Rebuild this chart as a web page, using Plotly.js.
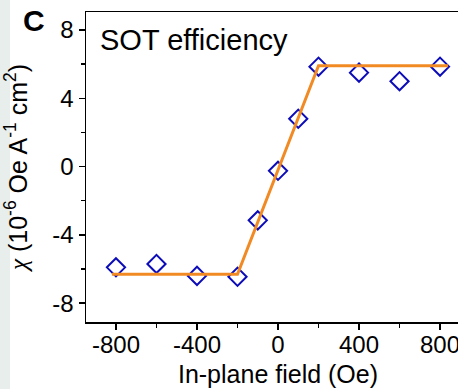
<!DOCTYPE html>
<html>
<head>
<meta charset="utf-8">
<script src="https://cdn.plot.ly/plotly-3.0.1.min.js"></script>
<style>
html,body{margin:0;padding:0;overflow:hidden;width:458px;height:389px;
background:linear-gradient(to right,#e8eeec 0px,#e8eeec 10px,#ffffff 10px);}
#chart{width:480px;height:389px;}
</style>
</head>
<body>
<div id="chart"></div>
<script>
// measured data points
var fieldOe = [-800, -600, -400, -200, -100, 0, 100, 200, 400, 600, 800];
var chi = [-5.9, -5.7, -6.4, -6.45, -3.15, -0.25, 2.8, 5.85, 5.5, 5.0, 5.85];
// fitted piecewise-linear curve
var fitX = [-820, -200, 200, 840];
var fitY = [-6.3, -6.3, 5.9, 5.9];
var xTicks = [-800, -400, 0, 400, 800];
var yTicks = [-8, -4, 0, 4, 8];

var font = 'Liberation Sans, Arial, sans-serif';
var traces = [
  {x: fieldOe, y: chi, type: 'scatter', mode: 'markers',
   marker: {symbol: 'diamond-open', size: 14, color: 'rgb(12,12,185)', line: {width: 2, color: 'rgb(12,12,185)'}}},
  {x: fitX, y: fitY, type: 'scatter', mode: 'lines',
   line: {color: 'rgb(242,138,36)', width: 3}}
];
var axisCommon = {showline: true, linecolor: '#000', linewidth: 1.5, mirror: true,
  ticks: 'outside', ticklen: 6, tickwidth: 1.5, tickcolor: '#000',
  showgrid: false, zeroline: false, tickfont: {family: font, size: 24, color: '#000'}};
var layout = {
  width: 480, height: 389,
  margin: {l: 86, r: 10, t: 12, b: 67},
  paper_bgcolor: 'rgba(0,0,0,0)', plot_bgcolor: '#fff',
  showlegend: false,
  xaxis: Object.assign({}, axisCommon, {
    range: [-948, 948], tickmode: 'array', tickvals: xTicks, ticktext: xTicks.map(String),
    ticklabelstandoff: -5,
    minor: {dtick: 200, tick0: 0, ticks: 'outside', ticklen: 4, tickwidth: 1.5, tickcolor: '#000'},
    title: {text: 'In-plane field (Oe)', font: {family: font, size: 25, color: '#000'}, standoff: 8}
  }),
  yaxis: Object.assign({}, axisCommon, {
    range: [-9.1, 9.05], tickmode: 'array', tickvals: yTicks, ticktext: yTicks.map(String),
    minor: {dtick: 2, tick0: 0, ticks: 'outside', ticklen: 4, tickwidth: 1.5, tickcolor: '#000'},
    title: {text: '<i style="font-family:Liberation Serif">χ</i> (10<sup>-6</sup> Oe A<sup>-1</sup> cm<sup>2</sup>)',
            font: {family: font, size: 25, color: '#000'}, standoff: 20}
  }),
  annotations: [
    {text: 'SOT efficiency', xref: 'paper', yref: 'paper', x: 0.032, y: 0.91,
     xanchor: 'left', yanchor: 'middle', showarrow: false, font: {family: font, size: 29, color: '#000'}},
    {text: '<b>C</b>', xref: 'paper', yref: 'paper', x: -0.17, y: 0.972,
     xanchor: 'left', yanchor: 'middle', showarrow: false, font: {family: font, size: 30, color: '#000'}}
  ]
};
Plotly.newPlot('chart', traces, layout, {staticPlot: true, displayModeBar: false});
</script>
</body>
</html>
